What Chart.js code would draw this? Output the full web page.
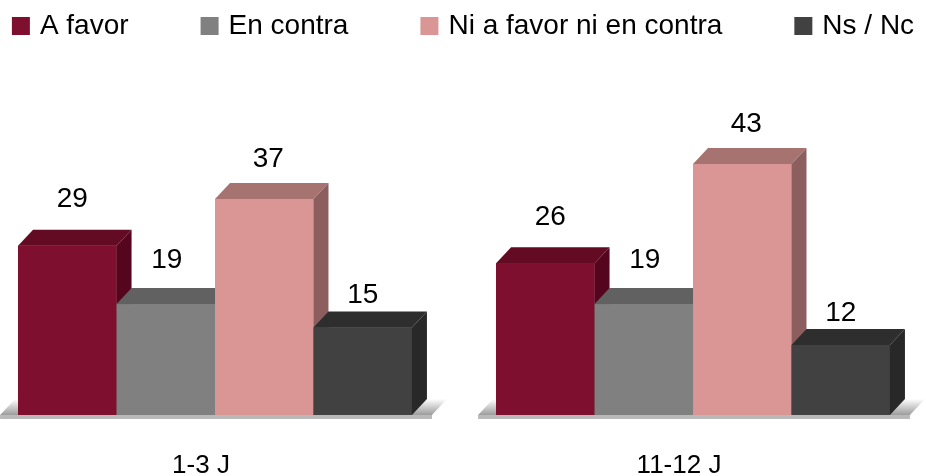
<!DOCTYPE html>
<html lang="es">
<head>
<meta charset="utf-8">
<title>A favor / En contra</title>
<script src="https://cdn.jsdelivr.net/npm/chart.js@4.4.1/dist/chart.umd.min.js"></script>
<style>
  html, body { margin: 0; padding: 0; background: #fff; }
</style>
</head>
<body>
<canvas id="grafico" width="926" height="476"></canvas>
<script>
const periodos = ['1-3 J', '11-12 J'];
const series = ['A favor', 'En contra', 'Ni a favor ni en contra', 'Ns / Nc'];
const aFavor = [29, 26];
const enContra = [19, 19];
const niNi = [37, 43];
const nsNc = [15, 12];
const valores = [aFavor, enContra, niNi, nsNc];

// frente, tapa y lateral de cada serie
const caras = [
  ['#7f0f2e', '#640b24', '#55061e'],
  ['#808080', '#616161', '#575757'],
  ['#d99694', '#a67371', '#8c5f5e'],
  ['#414141', '#2e2e2e', '#282828']
];

const FONDO = 15, ALTO = 16;   // profundidad del efecto 3D
const subida = [46, 44, 40, 32]; // altura de la etiqueta sobre la barra
const corrimiento = [5, 1, 4, 0];
const fuente = "'Liberation Sans', Arial, sans-serif";

const barras3d = {
  id: 'barras3d',
  beforeDatasetsDraw(chart) {
    // suelo gris bajo cada grupo
    const ctx = chart.ctx;
    const primero = chart.getDatasetMeta(0).data;
    const ultimo = chart.getDatasetMeta(chart.data.datasets.length - 1).data;
    ctx.save();
    primero.forEach((bar, i) => {
      const fin = ultimo[i];
      const izq = bar.x - bar.width / 2 - 18;
      const der = fin.x + fin.width / 2 + 20;
      const base = bar.base;
      const grad = ctx.createLinearGradient(0, base - ALTO, 0, base);
      grad.addColorStop(0, '#ffffff');
      grad.addColorStop(1, '#9c9c9c');
      ctx.fillStyle = grad;
      ctx.beginPath();
      ctx.moveTo(izq, base);
      ctx.lineTo(der, base);
      ctx.lineTo(der + FONDO, base - ALTO);
      ctx.lineTo(izq + FONDO, base - ALTO);
      ctx.closePath();
      ctx.fill();
      ctx.fillStyle = '#b9b9b9';
      ctx.fillRect(izq, base, der - izq, 4);
    });
    ctx.restore();
  },
  afterDatasetsDraw(chart) {
    const ctx = chart.ctx;
    const n = chart.data.datasets.length;
    ctx.save();
    for (let i = 0; i < periodos.length; i++) {
      for (let d = 0; d < n; d++) {
        const bar = chart.getDatasetMeta(d).data[i];
        const [frente, tapa, lado] = caras[d];
        const x0 = bar.x - bar.width / 2, x1 = bar.x + bar.width / 2;
        const y0 = bar.y, y1 = bar.base;
        ctx.fillStyle = frente;
        ctx.fillRect(x0, y0, x1 - x0, y1 - y0);
        ctx.fillStyle = tapa;
        ctx.beginPath();
        ctx.moveTo(x0, y0);
        ctx.lineTo(x0 + FONDO, y0 - ALTO);
        ctx.lineTo(x1 + FONDO, y0 - ALTO);
        ctx.lineTo(x1, y0);
        ctx.closePath();
        ctx.fill();
        ctx.fillStyle = lado;
        ctx.beginPath();
        ctx.moveTo(x1, y0);
        ctx.lineTo(x1 + FONDO, y0 - ALTO);
        ctx.lineTo(x1 + FONDO, y1 - ALTO);
        ctx.lineTo(x1, y1);
        ctx.closePath();
        ctx.fill();
      }
    }
    // valores encima de las barras
    ctx.fillStyle = '#000';
    ctx.font = '28px ' + fuente;
    ctx.textAlign = 'center';
    ctx.textBaseline = 'middle';
    for (let d = 0; d < n; d++) {
      chart.getDatasetMeta(d).data.forEach((bar, i) => {
        ctx.fillText(String(valores[d][i]), bar.x + corrimiento[d], bar.y - subida[d]);
      });
    }
    ctx.restore();
  }
};

const leyenda = {
  id: 'leyenda',
  afterDraw(chart) {
    const ctx = chart.ctx;
    const caja = 18, hueco = 10, separacion = 72, yc = 26;
    ctx.save();
    ctx.font = '28px ' + fuente;
    ctx.textBaseline = 'middle';
    ctx.textAlign = 'left';
    const items = chart.data.datasets.map(ds => ({
      texto: ds.label,
      color: ds.backgroundColor,
      ancho: caja + hueco + ctx.measureText(ds.label).width
    }));
    const total = items.reduce((s, it) => s + it.ancho, 0) + separacion * (items.length - 1);
    let x = chart.width / 2 - total / 2;
    items.forEach(it => {
      ctx.fillStyle = it.color;
      ctx.fillRect(x, yc - caja / 2, caja, caja);
      ctx.fillStyle = '#000';
      ctx.fillText(it.texto, x + caja + hueco, yc);
      x += it.ancho + separacion;
    });
    ctx.restore();
  }
};

new Chart(document.getElementById('grafico'), {
  type: 'bar',
  data: {
    datasets: series.map((nombre, d) => ({
      label: nombre,
      data: valores[d].map((v, i) => ({ x: i, y: v })),
      backgroundColor: caras[d][0],
      categoryPercentage: 0.824,
      barPercentage: 1
    }))
  },
  options: {
    responsive: false,
    animation: false,
    devicePixelRatio: 1,
    layout: { padding: { top: 123, left: 0, right: 0, bottom: 0 } },
    scales: {
      x: {
        type: 'linear',
        min: -0.4498,
        max: 1.4874,
        offset: false,
        grid: { display: false, drawTicks: false },
        border: { display: false },
        afterBuildTicks: scale => {
          scale.ticks = periodos.map((p, i) => ({ value: i }));
        },
        afterFit: scale => {
          scale.height = 61;
        },
        ticks: {
          padding: 39,
          labelOffset: -14,
          color: '#000',
          font: { family: fuente, size: 26, lineHeight: 0.9 },
          callback: v => periodos[v]
        }
      },
      y: { display: false, min: 0, max: 50 }
    },
    plugins: {
      legend: { display: false },
      tooltip: { enabled: false }
    }
  },
  plugins: [barras3d, leyenda]
});
</script>
</body>
</html>
